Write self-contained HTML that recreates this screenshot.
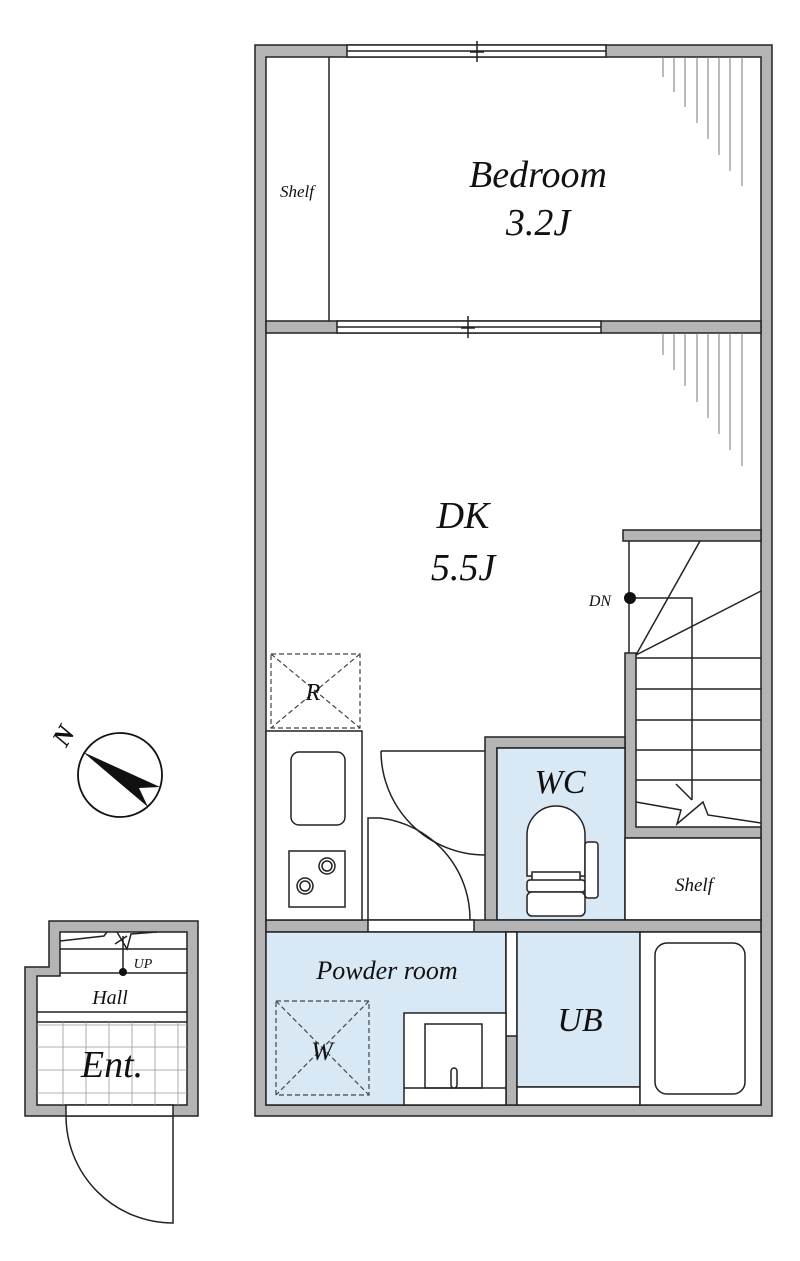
<!DOCTYPE html>
<html><head><meta charset="utf-8"><style>
html,body{margin:0;padding:0;background:#fff}
svg{display:block}
text{font-family:"Liberation Serif",serif;font-style:italic;fill:#111}
</style></head><body>
<svg width="800" height="1261" viewBox="0 0 800 1261" xmlns="http://www.w3.org/2000/svg">
<g stroke="#222" stroke-width="1.5">
<path d="M255 45H772V1116H255Z M266 57V1105H761V57Z" fill="#b4b4b4" fill-rule="evenodd"/>
<rect x="266" y="321" width="495" height="12" fill="#b4b4b4"/>
<rect x="347" y="45" width="259" height="12" fill="#fff"/>
<line x1="347" y1="51" x2="606" y2="51"/>
<line x1="477" y1="41" x2="477" y2="62"/><line x1="470" y1="52" x2="484" y2="52"/>
<rect x="337" y="321" width="264" height="12" fill="#fff"/>
<line x1="337" y1="327" x2="601" y2="327"/>
<line x1="468" y1="316" x2="468" y2="338"/><line x1="461" y1="328" x2="475" y2="328"/>
<line x1="329" y1="57" x2="329" y2="321"/>
</g>
<g stroke="#777" stroke-width="1">
<line x1="663" y1="57" x2="663" y2="77"/><line x1="674" y1="57" x2="674" y2="92"/><line x1="685" y1="57" x2="685" y2="107"/><line x1="697" y1="57" x2="697" y2="123"/><line x1="708" y1="57" x2="708" y2="139"/><line x1="719" y1="57" x2="719" y2="155"/><line x1="730" y1="57" x2="730" y2="171"/><line x1="742" y1="57" x2="742" y2="186"/>
<line x1="663" y1="333" x2="663" y2="355"/><line x1="674" y1="333" x2="674" y2="370"/><line x1="685" y1="333" x2="685" y2="386"/><line x1="697" y1="333" x2="697" y2="402"/><line x1="708" y1="333" x2="708" y2="418"/><line x1="719" y1="333" x2="719" y2="434"/><line x1="730" y1="333" x2="730" y2="450"/><line x1="742" y1="333" x2="742" y2="466"/>
</g>
<g stroke="#222" stroke-width="1.5" fill="none">
<rect x="623" y="530" width="138" height="11" fill="#b4b4b4"/>
<path d="M625 653H636V827H761V838H625Z" fill="#b4b4b4"/>
<line x1="629" y1="541" x2="629" y2="653"/>
<line x1="636" y1="658" x2="761" y2="658"/><line x1="636" y1="689" x2="761" y2="689"/><line x1="636" y1="720" x2="761" y2="720"/><line x1="636" y1="750" x2="761" y2="750"/><line x1="636" y1="780" x2="761" y2="780"/>
<line x1="636" y1="655" x2="700" y2="541"/><line x1="636" y1="655" x2="761" y2="591"/>
<path d="M630 598H692V800"/>
<path d="M676 784L692 800M636 802L681 810L677 824L703 802L708 815L761 823"/>
<path d="M485 737H625V748H497V922H485Z" fill="#b4b4b4"/>
<rect x="497" y="748" width="128" height="172" fill="#d9e8f5"/>
<rect x="625" y="838" width="136" height="82" fill="#fff"/>
<rect x="266" y="920" width="495" height="12" fill="#b4b4b4"/>
<rect x="368" y="920" width="106" height="12" fill="#fff"/>
<rect x="266" y="731" width="96" height="189" fill="#fff"/>
<rect x="291" y="752" width="54" height="73" rx="8"/>
<rect x="289" y="851" width="56" height="56"/>
<circle cx="327" cy="866" r="8"/><circle cx="327" cy="866" r="5"/>
<circle cx="305" cy="886" r="8"/><circle cx="305" cy="886" r="5"/>
<path d="M381 751H485M381 751A104 104 0 0 0 485 855"/>
<path d="M368 920V818H380A102 102 0 0 1 470 920"/>
<path d="M527 876V835A29 29 0 0 1 585 835V876Z" fill="#fff"/>
<rect x="532" y="872" width="48" height="10" fill="#fff"/>
<rect x="527" y="880" width="58" height="12" rx="3" fill="#fff"/>
<rect x="527" y="892" width="58" height="24" rx="5" fill="#fff"/>
<rect x="585" y="842" width="13" height="56" rx="3" fill="#fff"/>
<rect x="266" y="932" width="240" height="173" fill="#d9e8f5"/>
<rect x="506" y="932" width="11" height="173" fill="#b4b4b4"/>
<rect x="506" y="932" width="11" height="104" fill="#fff"/>
<path d="M517 1013L540 1024L517 1035" fill="#fff"/>
<rect x="517" y="932" width="123" height="155" fill="#d9e8f5"/>
<rect x="517" y="1087" width="123" height="18" fill="#fff"/>
<rect x="640" y="932" width="121" height="173" fill="#fff"/>
<rect x="655" y="943" width="90" height="151" rx="12"/>
<rect x="404" y="1013" width="102" height="92" fill="#fff"/>
<rect x="425" y="1024" width="57" height="64"/>
<line x1="404" y1="1088" x2="506" y2="1088"/>
<rect x="451" y="1068" width="6" height="20" rx="3" fill="#fff"/>
</g>
<g stroke="#444" stroke-width="1.2" stroke-dasharray="5,3" fill="none">
<rect x="271" y="654" width="89" height="74"/>
<path d="M271 654L360 728M360 654L271 728"/>
<rect x="276" y="1001" width="93" height="94"/>
<path d="M276 1001L369 1095M369 1001L276 1095"/>
</g>
<circle cx="630" cy="598" r="6" fill="#111"/>
<circle cx="120" cy="775" r="42" fill="none" stroke="#111" stroke-width="1.8"/>
<polygon points="83,752 160,787 139,788 148,807" fill="#111"/>
<text x="64" y="744" font-size="26" font-weight="bold" font-style="normal" font-family="Liberation Sans, sans-serif" text-anchor="middle" transform="rotate(-60 64 736)">N</text>
<g stroke="#222" stroke-width="1.5">
<path d="M49 921H198V1116H25V967H49Z M60 932V976H37V1105H187V932Z" fill="#b4b4b4" fill-rule="evenodd"/>
<rect x="66" y="1105" width="107" height="11" fill="#fff"/>
<line x1="37" y1="1012" x2="187" y2="1012"/><line x1="37" y1="1022" x2="187" y2="1022"/>
<line x1="60" y1="949" x2="187" y2="949"/><line x1="60" y1="973" x2="187" y2="973"/>
<path d="M60 941L104 936L107 932M157 932L131 934L127 949L117 932" fill="none"/>
<line x1="123" y1="936" x2="123" y2="972"/>
<path d="M115 944L127 936" fill="none"/>
<path d="M173 1116V1223A107 107 0 0 1 66 1116" fill="none"/>
</g>
<g stroke="#999" stroke-width="0.8">
<line x1="37" y1="1025" x2="187" y2="1025"/><line x1="37" y1="1047" x2="187" y2="1047"/><line x1="37" y1="1070" x2="187" y2="1070"/><line x1="37" y1="1093" x2="187" y2="1093"/>
<line x1="63" y1="1022" x2="63" y2="1105"/><line x1="86" y1="1022" x2="86" y2="1105"/><line x1="109" y1="1022" x2="109" y2="1105"/><line x1="132" y1="1022" x2="132" y2="1105"/><line x1="155" y1="1022" x2="155" y2="1105"/><line x1="178" y1="1022" x2="178" y2="1105"/>
</g>
<circle cx="123" cy="972" r="4" fill="#111"/>
<text x="538" y="187" font-size="38" text-anchor="middle">Bedroom</text>
<text x="538" y="235" font-size="38" text-anchor="middle">3.2J</text>
<text x="297" y="197" font-size="17" text-anchor="middle">Shelf</text>
<text x="463" y="528" font-size="38" text-anchor="middle">DK</text>
<text x="463" y="580" font-size="38" text-anchor="middle">5.5J</text>
<text x="600" y="606" font-size="16" text-anchor="middle">DN</text>
<text x="313" y="700" font-size="24" text-anchor="middle">R</text>
<text x="560" y="793" font-size="34" text-anchor="middle">WC</text>
<text x="694" y="891" font-size="19" text-anchor="middle">Shelf</text>
<text x="387" y="979" font-size="26" text-anchor="middle">Powder room</text>
<text x="580" y="1031" font-size="34" text-anchor="middle">UB</text>
<text x="322" y="1060" font-size="26" text-anchor="middle">W</text>
<text x="143" y="968" font-size="14" text-anchor="middle">UP</text>
<text x="110" y="1004" font-size="20" text-anchor="middle">Hall</text>
<text x="112" y="1077" font-size="38" text-anchor="middle">Ent.</text>
</svg>
</body></html>
